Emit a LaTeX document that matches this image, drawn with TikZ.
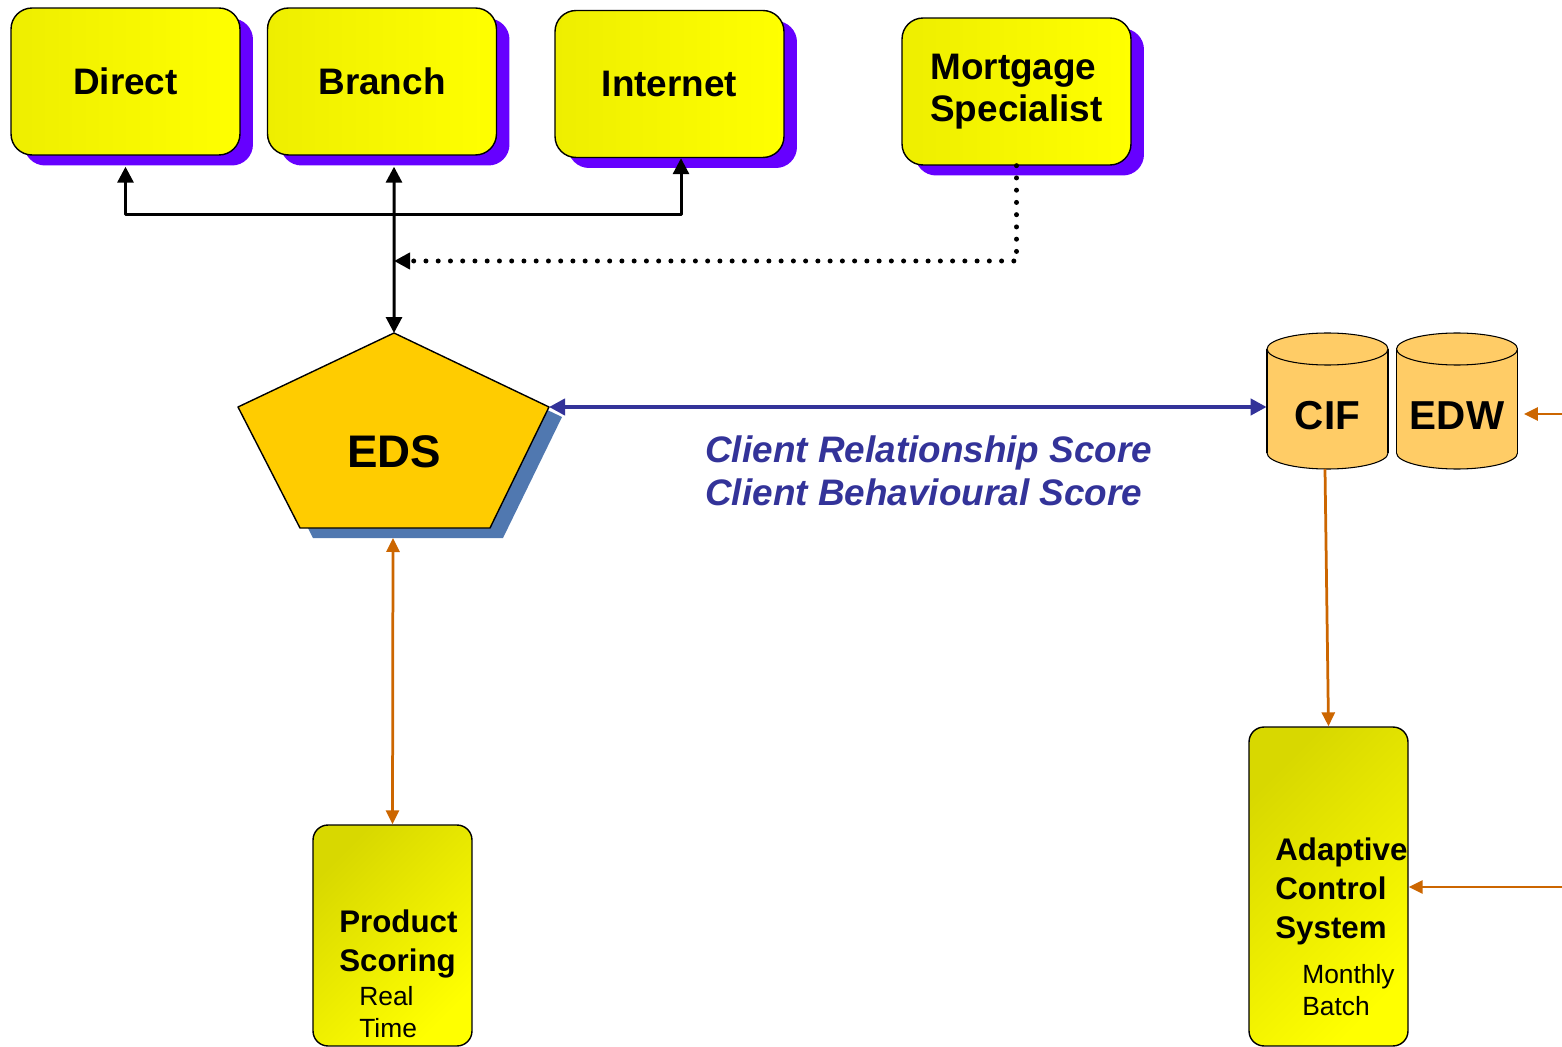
\documentclass[tikz,border=0pt]{standalone}
\usepackage{fontspec}
\setmainfont{Liberation Sans}
\usetikzlibrary{arrows.meta,shadows}
\definecolor{chanyellow}{RGB}{255,255,0}
\definecolor{chanyellowdark}{RGB}{238,238,0}
\definecolor{shadowpurple}{RGB}{102,0,255}
\definecolor{edsgold}{RGB}{255,204,0}
\definecolor{edsshade}{RGB}{80,120,176}
\definecolor{dbtan}{RGB}{255,204,102}
\definecolor{scoreblue}{RGB}{51,51,153}
\definecolor{feedorange}{RGB}{204,102,0}
\definecolor{procdark}{RGB}{216,216,0}

\begin{document}
\begin{tikzpicture}[x=0.02cm, y=-0.02cm, line join=round,
  chanbox/.style={draw=black, line width=0.8pt, rounded corners=0.42cm,
    minimum width=4.58cm, minimum height=2.94cm, inner sep=0pt,
    left color=chanyellowdark, right color=chanyellow,
    drop shadow={shadow xshift=0.26cm, shadow yshift=-0.21cm, fill=shadowpurple, opacity=1},
    font=\fontsize{21}{24}\selectfont\bfseries},
  procbox/.style={draw=black, line width=0.8pt, rounded corners=0.3cm,
    minimum width=3.18cm, inner sep=0pt,
    top color=procdark, bottom color=chanyellow, shading angle=45},
  proctitle/.style={anchor=north west, inner sep=0pt, align=left,
    font=\fontsize{17.8}{22.2}\selectfont\bfseries},
  procnote/.style={anchor=north west, inner sep=0pt, align=left,
    font=\fontsize{15}{18}\selectfont},
  dbtext/.style={inner sep=0pt, minimum width=2.42cm,
    font=\fontsize{23}{26}\selectfont\bfseries},
  wire/.style={line width=0.06cm},
  dotwire/.style={line width=0.1cm, dash pattern=on 0pt off 0.245cm, line cap=round},
  scorewire/.style={draw=scoreblue, line width=0.08cm},
  feedwire/.style={draw=feedorange, line width=0.055cm},
  tip/.style={-{Triangle[length=0.32cm, width=0.32cm]}},
  bitip/.style={{Triangle[length=0.32cm, width=0.32cm]}-{Triangle[length=0.32cm, width=0.32cm]}},
  ftip/.style={-{Triangle[length=0.28cm, width=0.26cm]}},
  bifin/.style={{Triangle[length=0.28cm, width=0.26cm]}-{Triangle[length=0.28cm, width=0.26cm]}}]
	\useasboundingbox (0,0) rectangle (1562,1047);

	%Channels
	\node[chanbox] (direct) at (125.5,81.5) {Direct};
	\node[chanbox] (branch) at (382,81.5) {Branch};
	\node[chanbox] (internet) at (669.5,84) {Internet};
	\node[chanbox, align=left] (mortgage) at (1016.5,91.5) {Mortgage\\Specialist};

	%EDS pentagon
	\begin{scope}[shift={(13,10)}]
		\fill[edsshade] (394,333) -- (549,407) -- (490,528) -- (300,528) -- (238,407) -- cycle;
	\end{scope}
	\coordinate (edsTop) at (394,333);
	\coordinate (edsRight) at (549,407);
	\coordinate (edsBR) at (490,528);
	\coordinate (edsBL) at (300,528);
	\coordinate (edsLeft) at (238,407);
	\coordinate (edsFoot) at (393,538);
	\path[draw=black, fill=edsgold, line width=0.8pt] (edsTop) -- (edsRight) -- (edsBR) -- (edsBL) -- (edsLeft) -- cycle;
	\node[font=\fontsize{26}{30}\selectfont\bfseries] (eds) at (394,452) {EDS};

	%Channel wiring
	\coordinate (hub) at (394,215);
	\coordinate (merge) at (394,261);
	\draw[wire, tip] (hub) -| ([yshift=-0.22cm]direct.south);
	\draw[wire, tip] (hub) -| ([xshift=0.23cm]internet.south);
	\draw[wire, bitip] ([xshift=0.24cm, yshift=-0.22cm]branch.south) -- (edsTop);
	\draw[dotwire, tip] (mortgage.south) |- (merge);

	%Databases
	\foreach \cx/\db in {1327.5/CIF, 1457/EDW} {
		\filldraw[fill=dbtan, draw=black, line width=0.6pt] (\cx,453) ellipse [x radius=1.21cm, y radius=0.32cm];
		\fill[dbtan] (\cx-60.5,349) rectangle (\cx+60.5,453);
		\draw[line width=0.6pt] (\cx-60.5,349) -- (\cx-60.5,453) (\cx+60.5,349) -- (\cx+60.5,453);
		\filldraw[fill=dbtan, draw=black, line width=0.6pt] (\cx,349) ellipse [x radius=1.21cm, y radius=0.32cm];
		\node[dbtext] (\db) at (\cx,416) {\db};
	}

	%Scores
	\draw[scorewire, bitip] (edsRight) -- (edsRight -| CIF.west);
	\node[anchor=north west, inner sep=0pt, align=left, text=scoreblue,
		font=\fontsize{21}{24.6}\selectfont\bfseries\itshape] (scores) at (705,435)
		{Client Relationship Score\\Client Behavioural Score};

	%Processing
	\node[procbox, minimum height=4.42cm] (prodscore) at (392.5,935.5) {};
	\node[proctitle] (prodname) at (339,909) {Product\\Scoring};
	\node[procnote] (prodmode) at (359,986) {Real\\Time};
	\node[procbox, minimum height=6.38cm] (acs) at (1328.5,886.5) {};
	\node[proctitle] (acsname) at (1275,837) {Adaptive\\Control\\System};
	\node[procnote] (acsmode) at (1302,964) {Monthly\\Batch};

	%Feeds
	\coordinate (cifFoot) at (1325,469);
	\coordinate (edwFeed) at (1562,414);
	\coordinate (acsFeed) at (1562,887);
	\draw[feedwire, bifin] (edsFoot) -- (prodscore.north);
	\draw[feedwire, ftip] (cifFoot) -- (acs.north);
	\draw[feedwire, ftip] (edwFeed) -- ([xshift=0.12cm]edwFeed -| EDW.east);
	\draw[feedwire, ftip] (acsFeed) -- (acsFeed -| acs.east);
\end{tikzpicture}
\end{document}
